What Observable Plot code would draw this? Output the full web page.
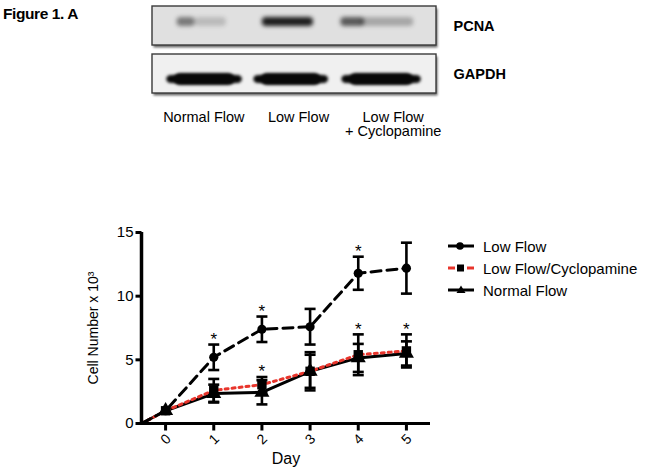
<!DOCTYPE html>
<html><head><meta charset="utf-8">
<script src="https://cdn.jsdelivr.net/npm/d3@7"></script>
<script src="https://cdn.jsdelivr.net/npm/@observablehq/plot@0.6"></script>
<style>
body{margin:0;background:#fff;}
#page{position:relative;width:651px;height:476px;overflow:hidden;font-family:"Liberation Sans",Arial,Helvetica,sans-serif;color:#000;}
.abs{position:absolute;}
#fig{left:3px;top:5px;font-weight:bold;font-size:15.5px;letter-spacing:-0.4px;}
#legend{left:448px;top:235px;font-size:15px;}
.row{display:flex;align-items:center;height:22px;white-space:nowrap;}
.row svg{margin-right:9px;flex:none;}
</style></head><body>
<div id="page">
<div id="fig" class="abs">Figure 1. A</div>
<div id="blot" class="abs" style="left:0;top:0"></div>
<div id="chart" class="abs" style="left:0;top:200px"></div>
<div id="legend" class="abs"></div>
</div>
<script>
// ---- Western blot (panel A) ----
const lanes = ["Normal Flow", "Low Flow", "Low Flow\n+ Cyclopamine"];
const blotNames = ["PCNA", "GAPDH"];
// band pieces: start/end in lane units, darkness
const pcnaBands = [
  {x1: 0.26, x2: 0.45, op: 0.5},
  {x1: 0.45, x2: 0.78, op: 0.18},
  {x1: 1.16, x2: 1.70, op: 0.95},
  {x1: 1.99, x2: 2.24, op: 0.65},
  {x1: 2.20, x2: 2.76, op: 0.28}
];
const gapdhBands = [
  {x1: 0.15, x2: 0.95, op: 1},
  {x1: 1.07, x2: 1.86, op: 1},
  {x1: 2.00, x2: 2.84, op: 1}
];

// ---- Growth curve (cell number x 10^3 by day) ----
const days = [0, 1, 2, 3, 4, 5];
const startDay = -0.5;
const lowFlow    = [1.0, 5.2, 7.4, 7.6, 11.8, 12.2];
const lowFlowSem = [0,   1.0, 1.0, 1.4, 1.3,  2.0];
const cyclo      = [1.0, 2.6, 3.05, 4.1, 5.4, 5.7];
const cycloSem   = [0,   0.9, 0.6,  1.3, 1.6, 1.3];
const normal     = [1.0, 2.35, 2.45, 4.1, 5.15, 5.5];
const normalSem  = [0,   0.7,  0.95, 1.5, 1.1,  0.95];
const yTicks = [0, 5, 10, 15];
const stars = [
  {series: "Low Flow", day: 1}, {series: "Low Flow", day: 2}, {series: "Low Flow", day: 4},
  {series: "Low Flow/Cyclopamine", day: 2}, {series: "Low Flow/Cyclopamine", day: 4},
  {series: "Low Flow/Cyclopamine", day: 5}
];

const FONT = '"Liberation Sans", Arial, Helvetica, sans-serif';
const RED = "#e8352c";

const series = [
  {name: "Low Flow", mean: lowFlow, sem: lowFlowSem, symbol: "circle", r: 4.6, line: "black", dash: "10,6"},
  {name: "Low Flow/Cyclopamine", mean: cyclo, sem: cycloSem, symbol: "square", r: 5.3, line: RED, dash: "3,4"},
  {name: "Normal Flow", mean: normal, sem: normalSem, symbol: "triangle", r: 5.6, line: "black", dash: null}
];
const rows = series.flatMap(s => days.map((d, i) => ({
  series: s.name, day: d, mean: s.mean[i], lo: s.mean[i] - s.sem[i], hi: s.mean[i] + s.sem[i], sem: s.sem[i]
})));
const errRows = rows.filter(r => r.sem > 0);
const capRows = errRows.flatMap(r => [{day: r.day, v: r.lo}, {day: r.day, v: r.hi}]);
const starRows = stars.map(s => rows.find(r => r.series === s.series && r.day === s.day));

const capSym = {draw(ctx) { ctx.moveTo(-5.5, 0); ctx.lineTo(5.5, 0); }};
const vTick = {draw(ctx) { ctx.moveTo(0, 0); ctx.lineTo(0, 7); }};
const hTick = {draw(ctx) { ctx.moveTo(0, 0); ctx.lineTo(-6, 0); }};

// ---- blot plot ----
const shrink = (b, k) => ({...b, x1: b.x1 + (b.x2 - b.x1) * k, x2: b.x2 - (b.x2 - b.x1) * k});
const blot = Plot.plot({
  width: 651, height: 150,
  marginLeft: 152, marginRight: 215, marginTop: 6, marginBottom: 57,
  x: {domain: [0, lanes.length], axis: null},
  y: {domain: blotNames, axis: null, paddingInner: 0.1875, paddingOuter: 0},
  style: {fontFamily: FONT, fontSize: "14px", background: "transparent", color: "black", overflow: "visible"},
  marks: [
    Plot.barX(blotNames, {y: d => d, x1: () => 0, x2: () => lanes.length, fill: "#6a6a6a", dx: 1.5, dy: 2.5}),
    Plot.barX(blotNames, {y: d => d, x1: () => 0, x2: () => lanes.length,
      fill: d => d === "PCNA" ? "#e0e0e0" : "#f0f0f0", stroke: "#3a3a3a", strokeWidth: 1.4}),
    Plot.barX(pcnaBands, {y: () => "PCNA", x1: "x1", x2: "x2", fill: "#111", fillOpacity: "op",
      insetTop: 11, insetBottom: 19, rx: 4}),
    Plot.barX(gapdhBands, {y: () => "GAPDH", x1: "x1", x2: "x2", fill: "#080808", fillOpacity: "op",
      insetTop: 21, insetBottom: 10, rx: 4.5}),
    Plot.barX(gapdhBands.map(b => shrink(b, 0.1)), {y: () => "GAPDH", x1: "x1", x2: "x2", fill: "#080808",
      insetTop: 19, insetBottom: 8, rx: 6}),
    Plot.text(blotNames, {y: d => d, frameAnchor: "right", textAnchor: "start", dx: 17,
      fontWeight: "bold", fontSize: 14.5}),
    Plot.text(lanes, {x: (d, i) => i + 0.5, frameAnchor: "bottom", lineAnchor: "top", dy: 18, dx: 4, fontSize: 14.5})
  ]
});
const bars = blot.querySelectorAll('g[aria-label="bar"]');
if (bars.length >= 5) {
  bars[0].style.filter = "blur(1.2px)";
  bars[2].style.filter = "blur(2.2px)";
  bars[3].style.filter = "blur(1.8px)";
  bars[4].style.filter = "blur(1.8px)";
}
document.getElementById("blot").appendChild(blot);

// ---- chart ----
const lineMarks = [...series].reverse().map(s => Plot.line(
  [{day: startDay, mean: 0}, ...rows.filter(r => r.series === s.name)],
  {x: "day", y: "mean", stroke: s.line, strokeWidth: 3, strokeDasharray: s.dash || undefined}
));
const dotMarks = series.map(s => Plot.dot(rows.filter(r => r.series === s.name),
  {x: "day", y: "mean", symbol: s.symbol, r: s.r, fill: "black", stroke: "none"}));

const chart = Plot.plot({
  width: 651, height: 276,
  marginLeft: 141, marginRight: 221, marginTop: 32, marginBottom: 53,
  x: {domain: [startDay, 5.5], axis: null},
  y: {domain: [0, 15], axis: null},
  style: {fontFamily: FONT, fontSize: "14px", background: "transparent", color: "black", overflow: "visible"},
  marks: [
    ...lineMarks,
    Plot.ruleX(errRows, {x: "day", y1: "lo", y2: "hi", stroke: "black", strokeWidth: 2.6}),
    Plot.dot(capRows, {x: "day", y: "v", symbol: capSym, fill: "none", stroke: "black", strokeWidth: 2.6}),
    ...dotMarks,
    Plot.text(starRows, {x: "day", y: "hi", text: () => "*", dy: -5, fontSize: 17}),
    Plot.ruleY([0], {stroke: "black", strokeWidth: 3}),
    Plot.ruleX([startDay], {stroke: "black", strokeWidth: 3.5}),
    Plot.dot(days, {x: d => d, y: () => 0, symbol: vTick, fill: "none", stroke: "black", strokeWidth: 3}),
    Plot.text(days, {x: d => d, y: () => 0, text: d => String(d), rotate: -45, textAnchor: "end", dx: 3, dy: 13, fontSize: 14}),
    Plot.dot(yTicks, {x: () => startDay, y: d => d, symbol: hTick, fill: "none", stroke: "black", strokeWidth: 3}),
    Plot.text(yTicks, {x: () => startDay, y: d => d, text: d => String(d), textAnchor: "end", dx: -8, fontSize: 15}),
    Plot.text(["Day"], {frameAnchor: "bottom", dy: 40, fontSize: 16}),
    Plot.text(["Cell Number x 10³"], {frameAnchor: "left", textAnchor: "middle", rotate: -90, dx: -48, fontSize: 14})
  ]
});
document.getElementById("chart").appendChild(chart);

// ---- legend ----
const legend = document.getElementById("legend");
const glyphs = {
  "Low Flow": '<line x1="0" y1="7" x2="26" y2="7" stroke="black" stroke-width="3"/><circle cx="12" cy="7" r="3.8" fill="black"/>',
  "Low Flow/Cyclopamine": `<line x1="0" y1="7" x2="7" y2="7" stroke="${RED}" stroke-width="3"/><line x1="19" y1="7" x2="26" y2="7" stroke="${RED}" stroke-width="3"/><rect x="9" y="3.5" width="7" height="7" fill="black"/>`,
  "Normal Flow": '<line x1="0" y1="7" x2="26" y2="7" stroke="black" stroke-width="3"/><path d="M13,2.5 L17.5,10 L8.5,10 Z" fill="black"/>'
};
series.forEach(s => {
  const row = document.createElement("div");
  row.className = "row";
  row.innerHTML = `<svg width="26" height="14" viewBox="0 0 26 14">${glyphs[s.name]}</svg><span>${s.name}</span>`;
  legend.appendChild(row);
});
</script>
</body></html>
